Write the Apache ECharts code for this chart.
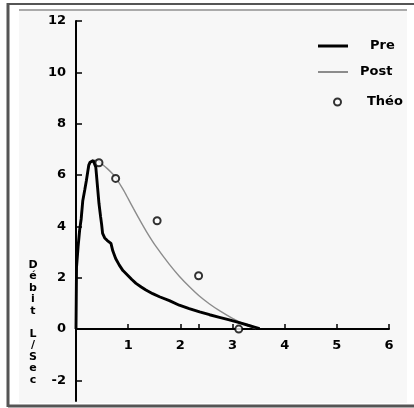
<!DOCTYPE html>
<html><head><meta charset="utf-8">
<script src="https://cdn.jsdelivr.net/npm/echarts@6/dist/echarts.min.js"></script>
<style>html,body{margin:0;padding:0;background:#fff}#c{width:414px;height:408px}</style>
</head><body><div id="c"></div>
<script>
// Data (volume L, flow L/s)
const preX = [0, 0.005, 0.01, 0.04, 0.07, 0.1, 0.13, 0.17, 0.2, 0.245, 0.27, 0.3, 0.33, 0.355, 0.38, 0.41, 0.44, 0.47, 0.49, 0.51, 0.55, 0.6, 0.67, 0.705, 0.76, 0.83, 0.9, 0.99, 1.07, 1.15, 1.25, 1.34, 1.47, 1.6, 1.79, 1.98, 2.17, 2.37, 2.56, 2.75, 2.94, 3.13, 3.3, 3.42, 3.52];
const preY = [0, 1.2, 2.4, 3.2, 3.86, 4.3, 5.0, 5.45, 5.8, 6.39, 6.5, 6.56, 6.57, 6.55, 6.3, 5.6, 4.9, 4.4, 4.1, 3.73, 3.55, 3.45, 3.34, 3.05, 2.75, 2.49, 2.28, 2.1, 1.93, 1.78, 1.64, 1.52, 1.38, 1.26, 1.11, 0.93, 0.8, 0.67, 0.56, 0.46, 0.36, 0.25, 0.15, 0.08, 0.02];
const postX = [0, 0.01, 0.07, 0.13, 0.2, 0.26, 0.32, 0.39, 0.5, 0.6, 0.7, 0.77, 0.9, 1.0, 1.1, 1.2, 1.35, 1.54, 1.79, 1.98, 2.17, 2.37, 2.56, 2.75, 3.0, 3.26, 3.45];
const postY = [0, 2.4, 3.86, 5.0, 5.8, 6.4, 6.55, 6.58, 6.42, 6.25, 6.05, 5.87, 5.45, 5.08, 4.7, 4.33, 3.8, 3.2, 2.52, 2.06, 1.66, 1.28, 0.98, 0.72, 0.42, 0.16, 0.02];
const theoX = [0.44, 0.76, 1.555, 2.35, 3.12];
const theoY = [6.48, 5.87, 4.22, 2.08, 0.0];
const xTickLabels = [1, 2, 3, 4, 5, 6];
const xTickMarks = [1, 2, 2.35, 3, 4, 5, 6];
const yTickLabels = [-2, 0, 2, 4, 6, 8, 10, 12];
const seriesNames = ['Pre', 'Post', 'Théo'];
const yTitle = 'Débit L/Sec';

const zip = (a, b) => a.map((v, i) => [v, b[i]]);
const FONT = 'DejaVu Sans';
const Y_MIN = -2.8, Y_MAX = 12, GRID_TOP = 21, GRID_H = 380;
const chart = echarts.init(document.getElementById('c'), null, {renderer: 'canvas'});
const legendBase = {
  orient: 'horizontal', padding: 0, itemGap: 0, selectedMode: false,
  textStyle: {fontFamily: FONT, fontWeight: 'bold', fontSize: 13, color: '#000', lineHeight: 14}
};
chart.setOption({
  animation: false,
  backgroundColor: '#fff',
  grid: {left: 76, top: GRID_TOP, width: 313, height: GRID_H, containLabel: false, outerBoundsMode: 'none'},
  xAxis: {
    type: 'value', min: 0, max: 6, interval: 1,
    offset: -Math.round(GRID_H * (0 - Y_MIN) / (Y_MAX - Y_MIN)),
    axisLine: {onZero: false, lineStyle: {color: '#000', width: 2}},
    axisTick: {inside: true, length: 5, lineStyle: {color: '#000', width: 1.5}, customValues: xTickMarks},
    axisLabel: {customValues: xTickLabels, margin: 10, color: '#000', fontFamily: FONT, fontWeight: 'bold', fontSize: 13},
    splitLine: {show: false}
  },
  yAxis: {
    type: 'value', min: Y_MIN, max: Y_MAX,
    axisLine: {lineStyle: {color: '#000', width: 2}},
    axisTick: {inside: true, length: 6, lineStyle: {color: '#000', width: 1.5}, customValues: yTickLabels},
    axisLabel: {customValues: yTickLabels, margin: 10, color: '#000', fontFamily: FONT, fontWeight: 'bold', fontSize: 13},
    splitLine: {show: false}
  },
  legend: [
    Object.assign({}, legendBase, {left: 318, top: 39, itemWidth: 30, itemHeight: 3,
      data: [{name: seriesNames[0], icon: 'rect', itemStyle: {color: '#000'}, textStyle: {padding: [0, 0, 0, 17]}}]}),
    Object.assign({}, legendBase, {left: 318, top: 65, itemWidth: 30, itemHeight: 2,
      data: [{name: seriesNames[1], icon: 'rect', itemStyle: {color: '#8c8c8c'}, textStyle: {padding: [0, 0, 0, 7]}}]}),
    Object.assign({}, legendBase, {left: 333, top: 95, itemWidth: 7, itemHeight: 7,
      data: [{name: seriesNames[2], icon: 'emptyCircle', itemStyle: {color: '#000', borderColor: '#000', borderWidth: 2}, textStyle: {padding: [0, 0, 0, 21]}}]})
  ],
  graphic: [
    {type: 'rect', z: -10, silent: true, shape: {x: 19, y: 11, width: 388, height: 392}, style: {fill: '#f7f7f7'}},
    {type: 'line', silent: true, shape: {x1: 19, y1: 10, x2: 407, y2: 10}, style: {stroke: '#aaa', lineWidth: 2}},
    {type: 'line', silent: true, shape: {x1: 8, y1: 4, x2: 414, y2: 4}, style: {stroke: '#555', lineWidth: 2}},
    {type: 'line', silent: true, shape: {x1: 8, y1: 3, x2: 8, y2: 407}, style: {stroke: '#555', lineWidth: 3}},
    {type: 'line', silent: true, shape: {x1: 8, y1: 406, x2: 414, y2: 406}, style: {stroke: '#555', lineWidth: 3}},
    {type: 'text', silent: true, x: 33, y: 259,
      style: {text: yTitle.replace(' ', '\n\n').replace(/([^\n])(?=[^\n])/g, '$1\n'), fill: '#000', font: 'bold 11px "DejaVu Sans"', lineHeight: 11.5, align: 'center', verticalAlign: 'top'}}
  ],
  series: [
    {name: seriesNames[0], type: 'line', data: zip(preX, preY), showSymbol: false, lineStyle: {color: '#000', width: 2.9}, itemStyle: {color: '#000'}, z: 3},
    {name: seriesNames[1], type: 'line', data: zip(postX, postY), showSymbol: false, smooth: 0.3, lineStyle: {color: '#8c8c8c', width: 1.4}, itemStyle: {color: '#8c8c8c'}, z: 2},
    {name: seriesNames[2], type: 'scatter', data: zip(theoX, theoY), symbol: 'emptyCircle', symbolSize: 7, itemStyle: {color: '#000', borderColor: '#000', borderWidth: 1.8}, z: 4}
  ]
});
</script></body></html>
